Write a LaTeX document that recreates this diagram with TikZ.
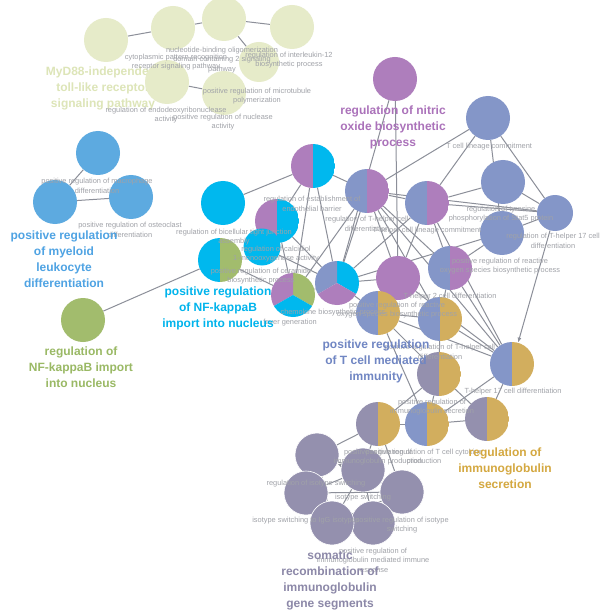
\documentclass[tikz,border=0pt]{standalone}
\usepackage{fontspec}
\setmainfont{Liberation Sans}
\usetikzlibrary{arrows.meta}
\definecolor{pale}{HTML}{E6EBC9}
\definecolor{myel}{HTML}{5DAAE0}
\definecolor{cyanc}{HTML}{00B8EE}
\definecolor{greenc}{HTML}{A2BC6D}
\definecolor{purp}{HTML}{AE7EBC}
\definecolor{slate}{HTML}{8496C8}
\definecolor{goldc}{HTML}{D2AE5E}
\definecolor{grayc}{HTML}{9490AE}
\definecolor{smallgray}{HTML}{A0A2A8}
\definecolor{edgec}{HTML}{8C8F99}
\definecolor{lpale}{HTML}{DDE5B8}
\definecolor{lmyel}{HTML}{4FA3E3}
\definecolor{lcyan}{HTML}{00B4EC}
\definecolor{lgreen}{HTML}{9AB965}
\definecolor{lpurp}{HTML}{AB72BA}
\definecolor{lslate}{HTML}{7086C3}
\definecolor{lgold}{HTML}{D4A840}
\definecolor{lgray}{HTML}{8C88A8}
\pgfdeclarelayer{bg}
\pgfsetlayers{bg,main}
\tikzset{
 nd/.style={circle, inner sep=0pt, minimum size=44pt},
 onec/.style={nd, fill=#1},
 halfc/.style 2 args={nd, path picture={\fill[#1] (path picture bounding box.south west) rectangle (path picture bounding box.north); \fill[#2] (path picture bounding box.south) rectangle (path picture bounding box.north east);}},
 tric/.style n args={3}{nd, path picture={
   \fill[#1] (path picture bounding box.center) -- +(-30:40pt) -- +(30:40pt) -- +(90:40pt) -- cycle;
   \fill[#2] (path picture bounding box.center) -- +(90:40pt) -- +(150:40pt) -- +(210:40pt) -- cycle;
   \fill[#3] (path picture bounding box.center) -- +(210:40pt) -- +(270:40pt) -- +(330:40pt) -- cycle;}},
 lnk/.style={draw=edgec, line width=1pt},
 sl/.style={text=smallgray, font=\fontsize{7.4}{9.6}\selectfont, align=center, inner sep=0pt},
 bl/.style={text=#1, font=\fontsize{12}{16}\selectfont\bfseries, align=center, inner sep=0pt},
 wb/.style={draw=white, line width=0.6pt}
}
\begin{document}
\begin{tikzpicture}[x=1pt,y=-1pt]
\useasboundingbox (0,0) rectangle (600,612);
% ---- top pale group
\node[onec=pale] (A1) at (106,40) {};
\node[onec=pale] (A2) at (173,28) {};
\node[onec=pale] (A3) at (224,19) {};
\node[onec=pale] (A4) at (292,27) {};
\node[onec=pale, minimum size=40pt] (A5) at (259,62) {};
\node[onec=pale] (A6) at (167,82) {};
\node[onec=pale] (A7) at (224,93) {};
% ---- myeloid
\node[onec=myel] (B1) at (98,153) {};
\node[onec=myel] (B2) at (55,202) {};
\node[onec=myel] (B3) at (131,197) {};
% ---- green
\node[onec=greenc] (G1) at (83,320) {};
% ---- cyan cluster
\node[onec=cyanc] (C1) at (223,203) {};
\node[halfc={purp}{cyanc}] (C2) at (313,166) {};
\node[halfc={purp}{cyanc}] (C3) at (277,221) {};
\node[onec=cyanc, minimum size=37pt] (C4) at (262,247) {};
\node[halfc={cyanc}{greenc}] (NF1) at (220,260) {};
\node[tric={greenc}{purp}{cyanc}] (T1) at (293,295) {};
\node[tric={cyanc}{slate}{purp}] (T2) at (337,283) {};
% ---- purple / slate
\node[onec=purp] (P1) at (395,79) {};
\node[onec=purp] (P2) at (398,278) {};
\node[onec=slate] (S1) at (488,118) {};
\node[halfc={slate}{purp}] (SS1) at (367,191) {};
\node[halfc={slate}{purp}] (SS2) at (427,203) {};
\node[onec=slate] (S2) at (503,182) {};
\node[onec=slate, minimum size=36pt] (S3) at (555,213) {};
\node[onec=slate] (S4) at (502,233) {};
\node[halfc={slate}{purp}] (SS3) at (450,268) {};
% ---- slate/gold, gray/gold
\node[halfc={slate}{goldc}] (SG1) at (378,313) {};
\node[halfc={slate}{goldc}] (SG2) at (440,319) {};
\node[halfc={slate}{goldc}] (SG3) at (512,364) {};
\node[halfc={grayc}{goldc}] (GG1) at (439,374) {};
\node[halfc={grayc}{goldc}] (GG2) at (487,419) {};
\node[halfc={slate}{goldc}] (SG4) at (427,424) {};
\node[halfc={grayc}{goldc}] (GG3) at (378,424) {};
% ---- gray cluster
\node[onec=grayc, wb] (D2) at (363,470) {};
\node[onec=grayc, wb] (D1) at (317,455) {};
\node[onec=grayc, wb] (D4) at (402,492) {};
\node[onec=grayc, wb] (D3) at (306,493) {};
\node[onec=grayc, wb] (D6) at (373,523) {};
\node[onec=grayc, wb] (D5) at (332,523) {};
% ---- background, edges
\begin{pgfonlayer}{bg}
\fill[white] (0,0) rectangle (600,612);
\foreach \a/\b in {A1/A2,A2/A3,A3/A4,A3/A5,A6/A7,B1/B2,B2/B3,G1/NF1,
 C1/C2,C2/C3,C2/T1,C2/T2,C3/T2,C4/T2,NF1/T1,C3/T1,P1/P2,P1/T2,
 SS1/S1,SS1/SS2,SS1/S3,SS1/T2,SS1/T1,SS1/P2,SS1/SS3,SS1/SG2,SS1/SG3,SS1/C2,
 SS2/S1,SS2/S2,SS2/S3,SS2/T2,SS2/SS3,SS2/SG3,SS2/P2,
 S1/S3,S1/S4,S2/S3,S3/S4,S4/SS3,S4/T2,P2/T2,P2/SG3,SS3/SG3,SS3/SG2,
 T2/SG1,T1/T2,SG1/SG2,SG1/SG3,SG1/SG4,SG1/GG1,SG2/SG3,SG2/GG1,
 SG3/SG4,GG1/GG2,GG1/GG3,GG1/SG4,SG4/GG3,SG4/GG2,GG2/SG3,
 GG3/D1,GG3/D2,GG3/D4,D1/D2,D3/D4,D3/D6,D2/D5,D1/D5,D2/D6,D4/D5,D3/D2}
 {\draw[lnk] (\a) -- (\b);}
\draw[lnk, -{Latex[length=5pt,width=4pt]}] (S3) -- (SG3);
\draw[lnk, -{Latex[length=5pt,width=4pt]}] (D4) -- (D1);
\node[bl=lpale] (LMyD) at (103,88) {MyD88-independent\\toll-like receptor\\signaling pathway};
\end{pgfonlayer}
% ---- small labels
\node[sl] (l1) at (222,60) {nucleotide-binding oligomerization\\domain containing 2 signaling\\pathway};
\node[sl] (l2) at (176,62) {cytoplasmic pattern recognition\\receptor signaling pathway};
\node[sl] (l3) at (289,60) {regulation of interleukin-12\\biosynthetic process};
\node[sl] (l4) at (257,96) {positive regulation of microtubule\\polymerization};
\node[sl] (l5) at (166,115) {regulation of endodeoxyribonuclease\\activity};
\node[sl] (l6) at (223,122) {positive regulation of nuclease\\activity};
\node[sl] (l7) at (97,186) {positive regulation of macrophage\\differentiation};
\node[sl] (l8) at (130,230) {positive regulation of osteoclast\\differentiation};
\node[sl] (l9) at (312,204) {regulation of establishment of\\endothelial barrier};
\node[sl] (l10) at (234,237) {regulation of bicellular tight junction\\assembly};
\node[sl] (l11) at (276,254) {regulation of calcidiol\\1-monooxygenase activity};
\node[sl] (l12) at (261,276) {positive regulation of ceramide\\biosynthetic process};
\node[sl] (l13) at (367,224) {regulation of T-helper cell\\differentiation};
\node[sl] (l14) at (489,147) {T cell lineage commitment};
\node[sl] (l15) at (427,231) {T-helper cell lineage commitment};
\node[sl] (l16) at (501,214) {regulation of tyrosine\\phosphorylation of Stat5 protein};
\node[sl] (l17) at (553,241) {regulation of T-helper 17 cell\\differentiation};
\node[sl] (l18) at (500,266) {positive regulation of reactive\\oxygen species biosynthetic process};
\node[sl] (l19) at (450,297) {T-helper 2 cell differentiation};
\node[sl] (l20) at (397,310) {positive regulation of reactive\\oxygen species biosynthetic process};
\node[sl] (l21) at (333,313) {chemokine biosynthetic process};
\node[sl] (l22) at (290,323) {fever generation};
\node[sl] (l23) at (440,352) {positive regulation of T-helper cell\\differentiation};
\node[sl] (l24) at (513,392) {T-helper 17 cell differentiation};
\node[sl] (l25) at (432,407) {positive regulation of\\immunoglobulin secretion};
\node[sl] (l26) at (378,457) {positive regulation of\\immunoglobulin production};
\node[sl] (l27) at (424,457) {positive regulation of T cell cytokine\\production};
\node[sl] (l28) at (316,484) {regulation of isotype switching};
\node[sl] (l29) at (363,498) {isotype switching};
\node[sl] (l30) at (306,521) {isotype switching to IgG isotypes};
\node[sl] (l31) at (402,525) {positive regulation of isotype\\switching};
\node[sl] (l32) at (373,561) {positive regulation of\\immunoglobulin mediated immune\\response};
% ---- big labels
\node[bl=lmyel] (Lmyel) at (64,259) {positive regulation\\of myeloid\\leukocyte\\differentiation};
\node[bl=lgreen] (Lgreen) at (81,367) {regulation of\\NF-kappaB import\\into nucleus};
\node[bl=lcyan] (Lcyan) at (218,308) {positive regulation\\of NF-kappaB\\import into nucleus};
\node[bl=lpurp] (Lpurp) at (393,127) {regulation of nitric\\oxide biosynthetic\\process};
\node[bl=lslate] (Lslate) at (376,361) {positive regulation\\of T cell mediated\\immunity};
\node[bl=lgold] (Lgold) at (505,468) {regulation of\\immunoglobulin\\secretion};
\node[bl=lgray] (Lgray) at (330,580) {somatic\\recombination of\\immunoglobulin\\gene segments};
\end{tikzpicture}
\end{document}
